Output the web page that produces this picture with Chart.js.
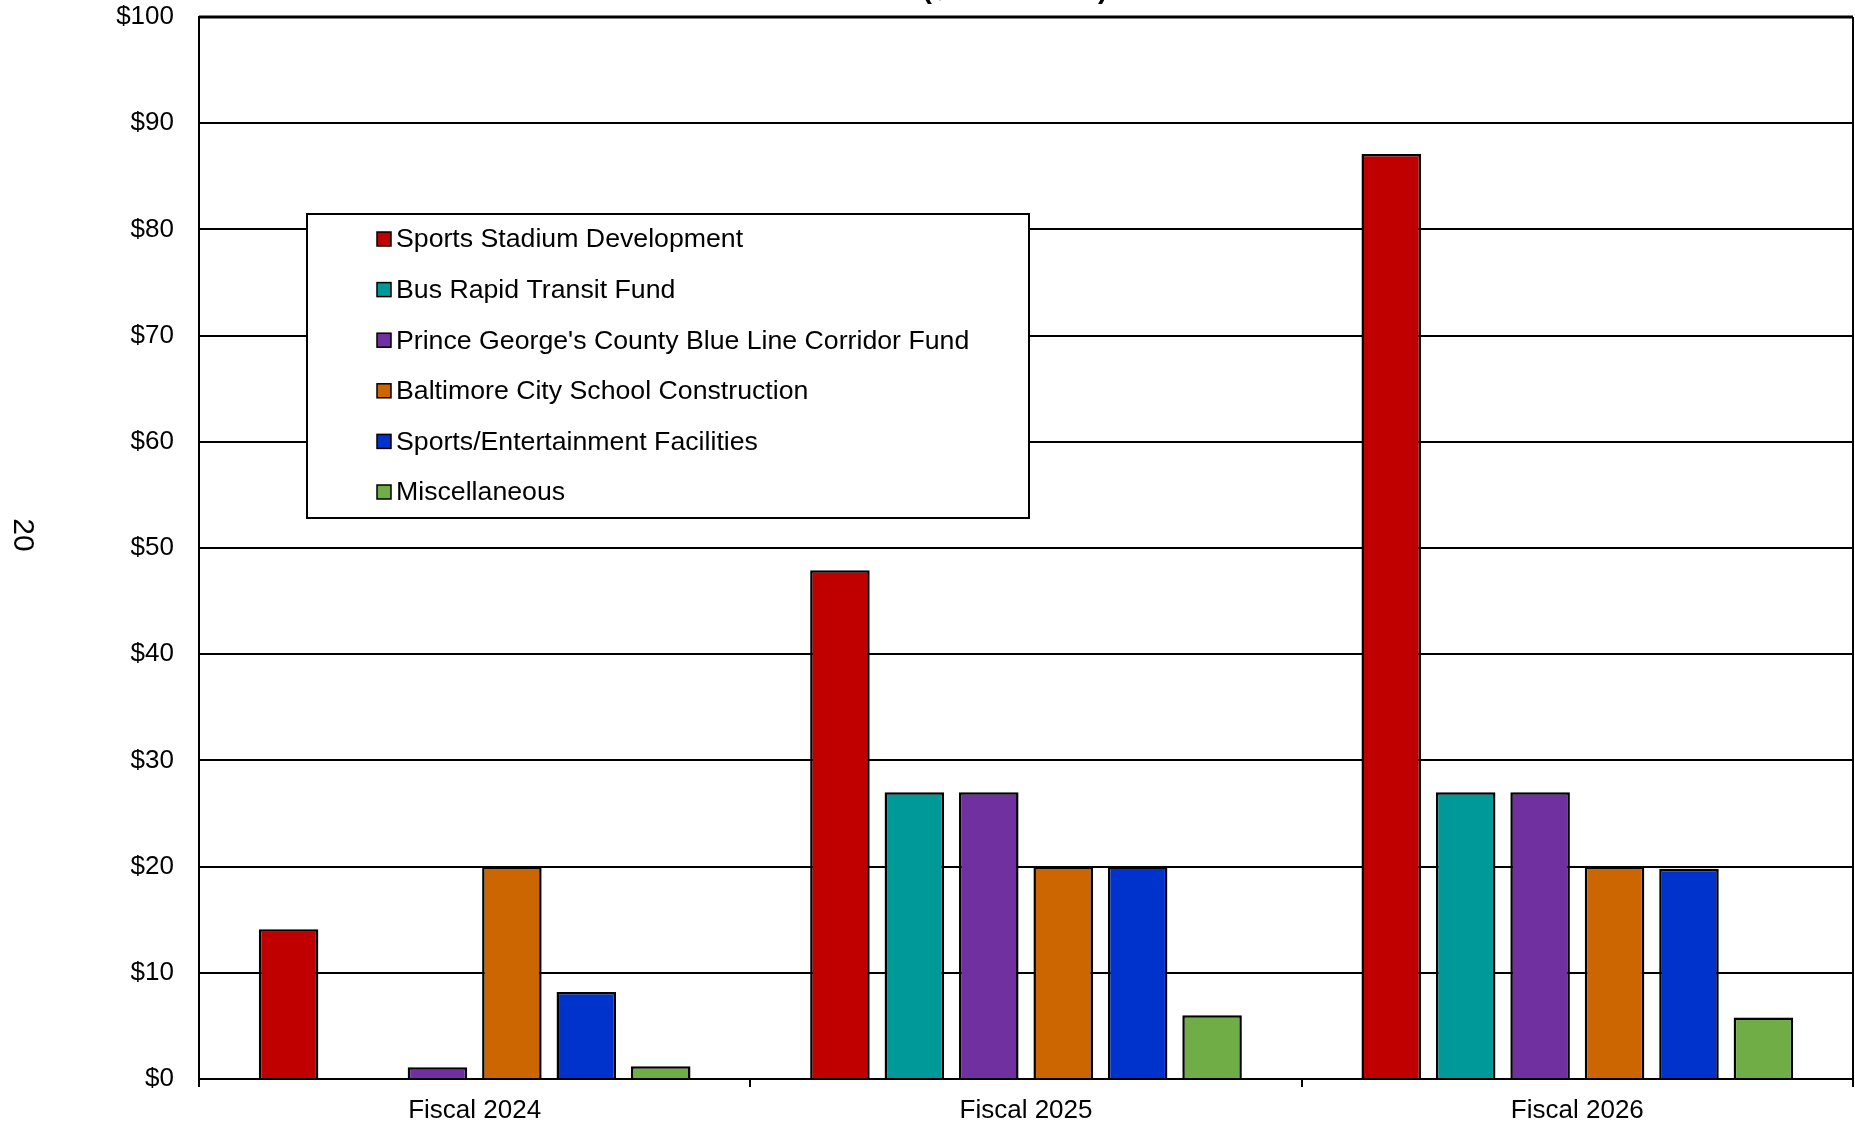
<!DOCTYPE html>
<html>
<head>
<meta charset="utf-8">
<script src="https://cdn.jsdelivr.net/npm/chart.js@4.4.1/dist/chart.umd.min.js"></script>
<style>
  html, body { margin: 0; padding: 0; background: #fff; }
  #wrap { width: 1855px; height: 1125px; position: relative; }
</style>
</head>
<body>
<div id="wrap"><canvas id="chart"></canvas></div>
<script>
// categories + series (values in $ millions)
const years = ['Fiscal 2024', 'Fiscal 2025', 'Fiscal 2026'];
const stadium = [14.1, 47.9, 87.1];
const busRapid = [0, 27, 27];
const blueLine = [1.1, 27, 27];
const baltSchool = [20, 20, 20];
const sportsEnt = [8.2, 20, 19.8];
const misc = [1.2, 6.0, 5.8];

const seriesNames = [
  'Sports Stadium Development',
  'Bus Rapid Transit Fund',
  "Prince George's County Blue Line Corridor Fund",
  'Baltimore City School Construction',
  'Sports/Entertainment Facilities',
  'Miscellaneous'
];
const seriesColors = ['#C00000', '#009999', '#7030A0', '#CC6600', '#0033CC', '#70AD47'];
const yTicks = [0, 10, 20, 30, 40, 50, 60, 70, 80, 90, 100];

const FONT = "'Liberation Sans', Arial, sans-serif";
Chart.defaults.font.family = FONT;
Chart.defaults.color = '#000';

const allSeries = [stadium, busRapid, blueLine, baltSchool, sportsEnt, misc];
const datasets = allSeries.map((vals, i) => ({
  label: seriesNames[i],
  data: vals,
  backgroundColor: seriesColors[i],
  borderColor: '#000',
  borderWidth: 2.5,
  categoryPercentage: 0.81,
  barPercentage: 0.8
}));

// frame, title remnant, page number and the boxed legend
const extras = {
  id: 'extras',
  beforeDraw(chart) {
    const c = chart.ctx;
    c.save();
    c.fillStyle = '#fff';
    c.fillRect(0, 0, chart.width, chart.height);
    c.restore();
  },
  afterDatasetsDraw(chart) {
    const c = chart.ctx;
    const a = chart.chartArea;
    c.save();
    // top + right frame
    c.strokeStyle = '#000';
    c.lineWidth = 3;
    c.beginPath();
    c.moveTo(a.left, a.top);
    c.lineTo(a.right, a.top);
    c.stroke();
    c.lineWidth = 2;
    c.beginPath();
    c.moveTo(a.right, a.top);
    c.lineTo(a.right, a.bottom + 8);
    c.stroke();

    // title, mostly cut off at the top of the page
    c.fillStyle = '#000';
    c.font = 'bold 29px ' + FONT;
    c.textAlign = 'center';
    c.textBaseline = 'alphabetic';
    c.fillText('($ in Millions)', 1015, -2);

    // page number, rotated
    c.save();
    c.translate(22, 535);
    c.rotate(Math.PI / 2);
    c.font = '30px ' + FONT;
    c.textAlign = 'center';
    c.textBaseline = 'middle';
    c.fillText('20', 0, 0);
    c.restore();

    // legend box
    const bx = a.left + 108, by = 214, bw = 722, bh = 304;
    c.fillStyle = '#fff';
    c.fillRect(bx, by, bw, bh);
    c.lineWidth = 2;
    c.strokeStyle = '#000';
    c.strokeRect(bx, by, bw, bh);
    c.font = '26.7px ' + FONT;
    c.textAlign = 'left';
    c.textBaseline = 'middle';
    chart.data.datasets.forEach((ds, i) => {
      const cy = by + 25 + i * 50.6;
      c.fillStyle = ds.backgroundColor;
      c.fillRect(bx + 70, cy - 7, 14, 14);
      c.lineWidth = 1.5;
      c.strokeStyle = '#000';
      c.strokeRect(bx + 70, cy - 7, 14, 14);
      c.fillStyle = '#000';
      c.fillText(ds.label, bx + 89, cy + 1);
    });
    c.restore();
  }
};

new Chart(document.getElementById('chart'), {
  type: 'bar',
  data: { labels: years, datasets: datasets },
  plugins: [extras],
  options: {
    responsive: true,
    maintainAspectRatio: false,
    animation: false,
    layout: { padding: { top: 17, right: 2, left: 0, bottom: 0 } },
    plugins: {
      legend: { display: false },
      tooltip: { enabled: false },
      title: { display: false }
    },
    scales: {
      x: {
        offset: true,
        grid: {
          offset: true,
          drawOnChartArea: false,
          drawTicks: true,
          tickLength: 8,
          color: '#000',
          lineWidth: 2
        },
        border: { display: true, color: '#000', width: 2 },
        ticks: {
          font: { size: 26 },
          color: '#000',
          padding: 8
        },
        afterFit(s) {
          s.height = 46;
          s.paddingLeft = 0;
          s.paddingRight = 0;
        }
      },
      y: {
        min: 0,
        max: 100,
        afterBuildTicks(s) { s.ticks = yTicks.map(v => ({ value: v })); },
        grid: {
          color: '#000',
          lineWidth: 2,
          drawTicks: false
        },
        border: { display: true, color: '#000', width: 2 },
        ticks: {
          font: { size: 26 },
          color: '#000',
          padding: 25,
          callback: v => '$' + v
        },
        afterFit(s) {
          s.width = 199;
          s.paddingTop = 0;
          s.paddingBottom = 0;
        }
      }
    }
  }
});
</script>
</body>
</html>
